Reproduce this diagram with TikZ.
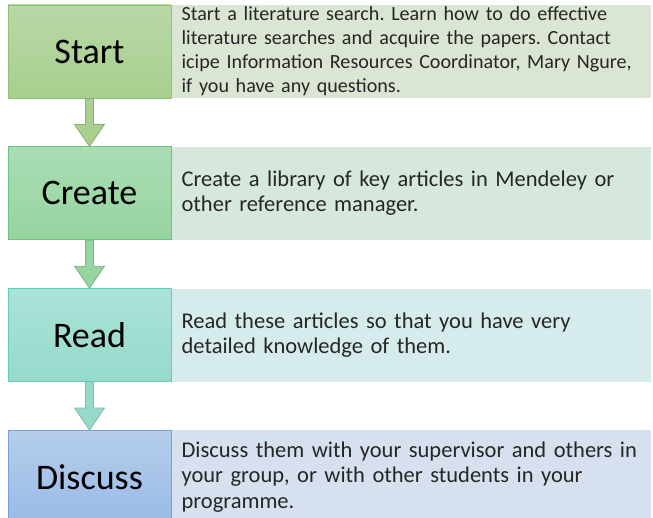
\documentclass[tikz,border=0pt]{standalone}
\usepackage{fontspec}
\setmainfont{Carlito}
\frenchspacing
\usetikzlibrary{positioning,calc}

\definecolor{startA}{RGB}{184,216,168}
\definecolor{startB}{RGB}{168,207,142}
\definecolor{startE}{RGB}{140,195,118}
\definecolor{startN}{RGB}{218,230,211}
\definecolor{createA}{RGB}{170,221,180}
\definecolor{createB}{RGB}{150,212,160}
\definecolor{createE}{RGB}{108,196,126}
\definecolor{createN}{RGB}{214,232,220}
\definecolor{readA}{RGB}{170,227,216}
\definecolor{readB}{RGB}{150,218,204}
\definecolor{readE}{RGB}{100,205,184}
\definecolor{readN}{RGB}{214,236,236}
\definecolor{discA}{RGB}{180,205,236}
\definecolor{discB}{RGB}{154,187,229}
\definecolor{discE}{RGB}{120,160,214}
\definecolor{discN}{RGB}{214,224,238}

\begin{document}
\begin{tikzpicture}[
    x=1pt,y=-1pt,
    node distance=48pt and 0pt,
    stage/.style={draw,line width=0.8pt,minimum width=163pt,minimum height=93pt,inner sep=0pt,font=\fontsize{36}{43}\selectfont},
    note/.style={minimum width=479pt,minimum height=93pt,text width=459pt,inner xsep=10pt,inner ysep=0pt,align=left,text=black!85,font=\fontsize{22.5}{25.6}\selectfont},
    flow/.style={line width=0.8pt,line join=miter}
]
\useasboundingbox (0,0) rectangle (653,518);

\node[stage,top color=startA,bottom color=startB,draw=startE] (start) at (89.5,51.5) {Start};
\node[stage,top color=createA,bottom color=createB,draw=createE,below=of start] (create) {Create};
\node[stage,top color=readA,bottom color=readB,draw=readE,below=of create] (read) {Read};
\node[stage,top color=discA,bottom color=discB,draw=discE,below=of read] (discuss) {Discuss};

\node[note,fill=startN,right=of start,font=\fontsize{20.1}{24}\selectfont] (startnote) {Start a literature search. Learn how to do effective\\literature searches and acquire the papers. Contact\\icipe Information Resources Coordinator, Mary Ngure,\\if you have any questions.};
\node[note,fill=createN,right=of create] (createnote) {Create a library of key articles in Mendeley or\\other reference manager.};
\node[note,fill=readN,right=of read] (readnote) {Read these articles so that you have very\\detailed knowledge of them.};
\node[note,fill=discN,right=of discuss] (discussnote) {Discuss them with your supervisor and others in\\your group, or with other students in your\\programme.};

% block arrows between the stages
\foreach \from/\to/\col in {start/create/startB,create/read/createB,read/discuss/readB}
  \filldraw[flow,fill=\col,draw=\col!85!black]
    ($(\from.south)+(-4,0)$) -- ($(\to.north)+(-4,-22)$) -- ($(\to.north)+(-15,-22)$)
    -- (\to.north) -- ($(\to.north)+(15,-22)$) -- ($(\to.north)+(4,-22)$)
    -- ($(\from.south)+(4,0)$) -- cycle;
\end{tikzpicture}
\end{document}
